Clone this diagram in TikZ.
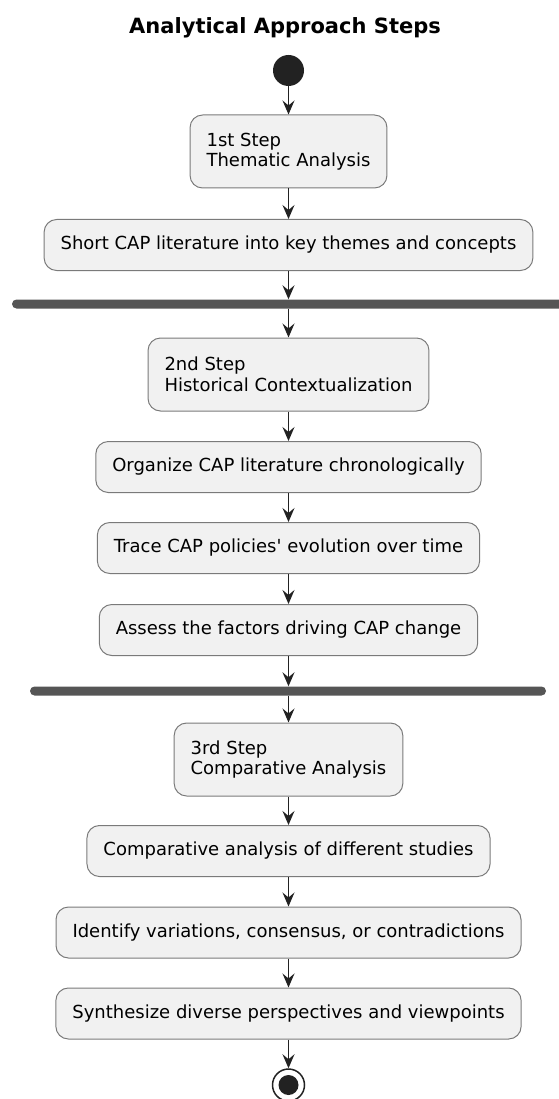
\documentclass[tikz,border=0pt]{standalone}
\usepackage{fontspec}
\setmainfont{DejaVu Sans}
\usetikzlibrary{arrows.meta}
\definecolor{boxfill}{HTML}{F1F1F1}
\definecolor{boxline}{HTML}{7A7A7A}
\definecolor{barfill}{HTML}{555555}
\definecolor{ink}{HTML}{222222}
\tikzset{
  act/.style={draw=boxline,line width=1pt,fill=boxfill,rounded corners=12.5pt,
    inner xsep=16.5pt,minimum height=51pt,font=\fontsize{18}{20.5}\selectfont},
  actstep/.style={act,align=left,minimum height=73pt},
  flow/.style={draw=ink,line width=1.5pt,-{Stealth[length=14pt,width=12pt,inset=5pt]}},
  forkbar/.style={fill=barfill,rounded corners=4.5pt,minimum height=9pt,inner sep=0pt},
}
\begin{document}
\begin{tikzpicture}[x=1pt,y=-1pt]
        \useasboundingbox (0,0) rectangle (558,1099);
        \node[anchor=base,font=\fontsize{21}{25}\selectfont\bfseries] (title) at (285,33.5) {Analytical Approach Steps};

        \node[circle,fill=ink,minimum size=31pt,inner sep=0pt] (start) at (288.5,70.5) {};
        \node[actstep] (s1) at (288.5,151.5) {1st Step\\Thematic Analysis};
        \node[act] (s2) at (288.5,245) {Short CAP literature into key themes and concepts};
        \node[forkbar,minimum width=600pt] (fork1) at (312,304) {};

        \node[actstep] (s3) at (288.5,374.5) {2nd Step\\Historical Contextualization};
        \node[act] (s4) at (288.5,467) {Organize CAP literature chronologically};
        \node[act] (s5) at (288.5,548) {Trace CAP policies\textquotesingle{} evolution over time};
        \node[act] (s6) at (288.5,630) {Assess the factors driving CAP change};
        \node[forkbar,minimum width=516pt] (fork2) at (288,691) {};

        \node[actstep] (s7) at (288.5,759.5) {3rd Step\\Comparative Analysis};
        \node[act] (s8) at (288.5,851) {Comparative analysis of different studies};
        \node[act] (s9) at (288.5,932.5) {Identify variations, consensus, or contradictions};
        \node[act] (s10) at (288.5,1013.5) {Synthesize diverse perspectives and viewpoints};

        \node[circle,draw=ink,line width=1.5pt,minimum size=32pt,inner sep=0pt] (stop) at (288.5,1085) {};
        \node[circle,fill=ink,minimum size=20pt,inner sep=0pt] (stopdot) at (stop) {};

        \foreach \a/\b in {start/s1,s1/s2,s3/s4,s4/s5,s5/s6,s7/s8,s8/s9,s9/s10,s10/stop}
          \draw[flow] (\a) -- (\b);
        \draw[flow] (s2) -- (s2 |- fork1.north);
        \draw[flow] (s3 |- fork1.south) -- (s3);
        \draw[flow] (s6) -- (s6 |- fork2.north);
        \draw[flow] (s7 |- fork2.south) -- (s7);
       \end{tikzpicture}
\end{document}
